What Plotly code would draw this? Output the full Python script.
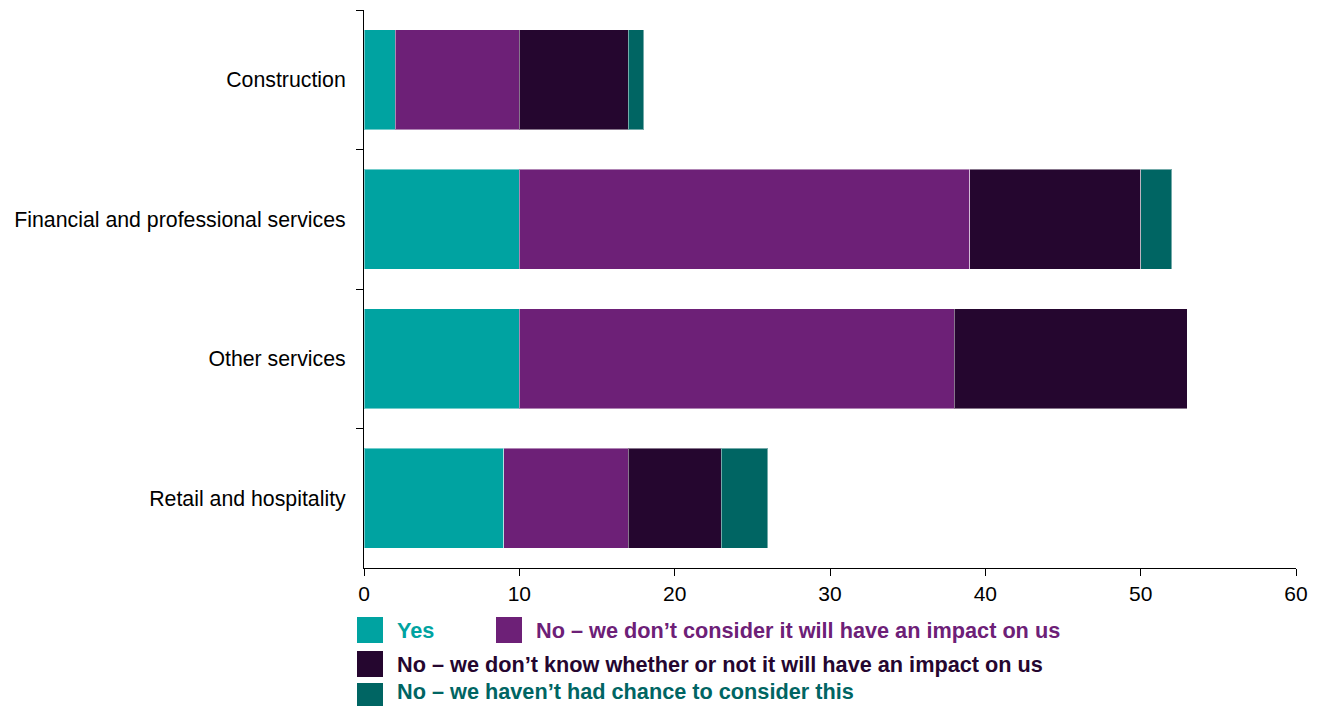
import plotly.graph_objects as go

# Survey responses by sector (number of respondents)
sectors = ["Construction", "Financial and professional services", "Other services", "Retail and hospitality"]
yes_vals = [2, 10, 10, 9]
no_not_impact = [8, 29, 28, 8]
no_dont_know = [7, 11, 15, 6]
no_not_considered = [1, 2, 0, 3]

series_names = [
    "Yes",
    "No \u2013 we don\u2019t consider it will have an impact on us",
    "No \u2013 we don\u2019t know whether or not it will have an impact on us",
    "No \u2013 we haven\u2019t had chance to consider this",
]
series_values = [yes_vals, no_not_impact, no_dont_know, no_not_considered]
colors = ["#00A3A1", "#6D2077", "#25062F", "#006563"]

W, H = 1328, 706
M_L, M_R, M_T, M_B = 364, 32, 10, 138
plot_h = H - M_T - M_B

fig = go.Figure()
for name, vals, col in zip(series_names, series_values, colors):
    fig.add_trace(go.Bar(
        y=sectors, x=vals, name=name, orientation="h",
        marker=dict(color=col, line=dict(color="rgba(255,255,255,0.45)", width=1)),
        showlegend=False,
    ))

# Hand-placed legend below the axis (pixel positions converted to paper units)
def py(px):
    return (H - M_B - px) / plot_h

def px_x(px):
    return (px - M_L) / (W - M_L - M_R)

legend_rows = [
    (0, 357, 630, 630),
    (1, 496, 630, 630),
    (2, 357, 664, 664),
    (3, 357, 696, 691),
]
shapes = []
annotations = []
for idx, x0, yc, ytxt in legend_rows:
    shapes.append(dict(
        type="rect", xref="paper", yref="paper",
        x0=px_x(x0), x1=px_x(x0 + 26), y0=py(yc + 13), y1=py(yc - 13),
        fillcolor=colors[idx], line=dict(width=0),
    ))
    annotations.append(dict(
        xref="paper", yref="paper", x=px_x(x0 + 38), y=py(ytxt),
        xanchor="left", yanchor="middle", showarrow=False,
        text="<b>" + series_names[idx] + "</b>",
        font=dict(family="Liberation Sans, Arial, sans-serif", size=21.7, color=colors[idx]),
    ))

fig.update_layout(
    barmode="stack",
    bargap=0.285,
    width=W, height=H,
    margin=dict(l=M_L, r=M_R, t=M_T, b=M_B, pad=0),
    plot_bgcolor="white", paper_bgcolor="white",
    font=dict(family="Liberation Sans, Arial, sans-serif", size=21, color="#000000"),
    shapes=shapes,
    annotations=annotations,
)
fig.update_xaxes(
    range=[0, 60], dtick=10, showgrid=False, zeroline=False,
    showline=True, linecolor="black", linewidth=1,
    ticks="outside", ticklen=7, tickcolor="black",
    tickfont=dict(size=21),
)
fig.update_yaxes(
    categoryorder="array", categoryarray=sectors, autorange="reversed",
    showgrid=False, showline=True, linecolor="black", linewidth=1,
    ticks="outside", ticklen=7, tickcolor="black", tickson="boundaries",
    ticklabelstandoff=13,
    tickfont=dict(size=21.3),
)

fig.write_html("out.html")
